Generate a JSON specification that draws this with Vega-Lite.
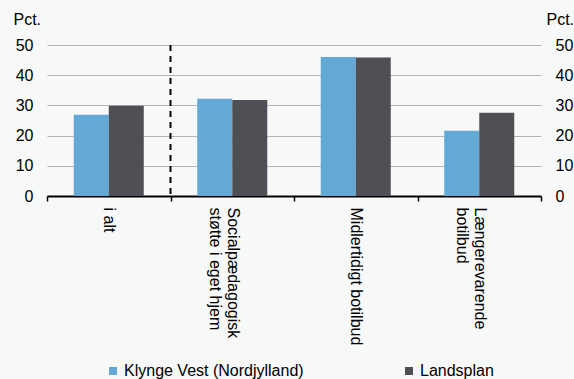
{
  "$schema": "https://vega.github.io/schema/vega-lite/v6.json",
  "width": 494,
  "height": 151,
  "autosize": {"type": "none"},
  "padding": {"left": 47, "top": 45, "right": 33, "bottom": 183},
  "background": "#f7f8f8",
  "config": {
    "view": {"stroke": null},
    "font": "Liberation Sans",
    "axis": {"labelFont": "Liberation Sans", "titleFont": "Liberation Sans", "labelFontSize": 16, "titleFontSize": 16, "labelColor": "#000", "titleColor": "#000", "titleFontWeight": "normal"},
    "legend": {"labelFont": "Liberation Sans", "labelFontSize": 16, "labelColor": "#000", "labelLimit": 400}
  },
  "datasets": {
    "bars": [
      {"kategori": "i alt", "serie": "Klynge Vest (Nordjylland)", "pct": 26.9},
      {"kategori": "i alt", "serie": "Landsplan", "pct": 29.9},
      {"kategori": "Socialpædagogisk|støtte i eget hjem", "serie": "Klynge Vest (Nordjylland)", "pct": 32.2},
      {"kategori": "Socialpædagogisk|støtte i eget hjem", "serie": "Landsplan", "pct": 31.8},
      {"kategori": "Midlertidigt botilbud", "serie": "Klynge Vest (Nordjylland)", "pct": 46.0},
      {"kategori": "Midlertidigt botilbud", "serie": "Landsplan", "pct": 45.9},
      {"kategori": "Længerevarende|botilbud", "serie": "Klynge Vest (Nordjylland)", "pct": 21.6},
      {"kategori": "Længerevarende|botilbud", "serie": "Landsplan", "pct": 27.6}
    ],
    "skille": [
      {"kategori": "Socialpædagogisk|støtte i eget hjem", "top": 50, "bund": 0}
    ]
  },
  "layer": [
    {
      "data": {"name": "bars"},
      "mark": {"type": "bar"},
      "encoding": {
        "x": {
          "field": "kategori", "type": "nominal", "sort": null,
          "scale": {"domain": ["i alt", "Socialpædagogisk|støtte i eget hjem", "Midlertidigt botilbud", "Længerevarende|botilbud"], "paddingInner": 0, "paddingOuter": 0},
          "axis": {
            "title": null, "labelAngle": 90, "labelAlign": "left", "labelBaseline": "middle",
            "labelExpr": "split(datum.label, '|')", "labelLineHeight": 18, "labelPadding": 6,
            "domainColor": "#000", "domainWidth": 2, "tickColor": "#000", "tickWidth": 1.5, "tickSize": 5,
            "tickBand": "extent", "grid": false
          }
        },
        "xOffset": {"field": "serie", "type": "nominal", "scale": {"domain": ["Klynge Vest (Nordjylland)", "Landsplan"], "paddingInner": 0, "paddingOuter": 0.764}},
        "y": {
          "field": "pct", "type": "quantitative",
          "scale": {"domain": [0, 50], "nice": false},
          "axis": {
            "title": "Pct.", "titleAngle": 0, "titleAlign": "left", "titleBaseline": "middle", "titleX": -34, "titleY": -26,
            "values": [0, 10, 20, 30, 40, 50], "domain": false, "ticks": false, "labelPadding": 14,
            "grid": true, "gridColor": "#b4b4b4", "gridWidth": 1
          }
        },
        "color": {
          "field": "serie", "type": "nominal",
          "scale": {"domain": ["Klynge Vest (Nordjylland)", "Landsplan"], "range": ["#63a9d5", "#4f5056"]},
          "legend": {"title": null, "orient": "none", "legendX": 58, "legendY": 318, "direction": "horizontal", "columnPadding": 97, "symbolType": "square", "symbolSize": 64, "symbolStrokeWidth": 0, "labelOffset": 3, "labelLimit": 400}
        }
      }
    },
    {
      "data": {"name": "skille"},
      "mark": {"type": "rule", "color": "#000", "strokeWidth": 2, "strokeDash": [6, 5]},
      "encoding": {
        "x": {"field": "kategori", "type": "nominal", "bandPosition": 0},
        "y": {
          "field": "top", "type": "quantitative",
          "scale": {"domain": [0, 50], "nice": false},
          "axis": {
            "orient": "right", "title": "Pct.", "titleAngle": 0, "titleAlign": "left", "titleBaseline": "middle", "titleX": 5, "titleY": -26,
            "values": [0, 10, 20, 30, 40, 50], "domain": false, "ticks": false, "labelPadding": 14, "grid": false
          }
        },
        "y2": {"field": "bund"}
      }
    }
  ],
  "resolve": {"scale": {"y": "independent"}}
}
